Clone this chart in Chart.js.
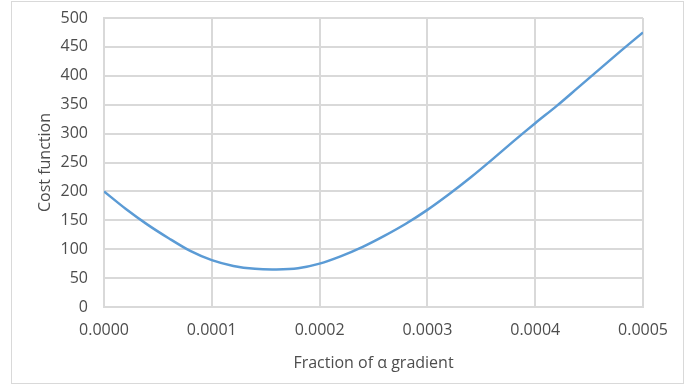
<!DOCTYPE html>
<html>
<head>
<meta charset="utf-8">
<script src="https://cdn.jsdelivr.net/npm/chart.js@4/dist/chart.umd.min.js"></script>
<style>
  html, body { margin: 0; padding: 0; background: #fff; }
  #wrap { position: relative; width: 688px; height: 385px; }
  #frame { position: absolute; left: 11px; top: 1px; width: 671px; height: 381px; border: 1px solid #d9d9d9; }
  canvas { position: absolute; left: 0; top: 0; }
</style>
</head>
<body>
<div id="wrap">
  <div id="frame"></div>
  <canvas id="chart" width="688" height="385"></canvas>
</div>
<script>
// fraction of alpha gradient
const fractions = [0, 0.00002, 0.00004, 0.00006, 0.00008, 0.0001, 0.00012, 0.00014, 0.00016, 0.00018,
    0.0002, 0.00022, 0.00024, 0.00026, 0.00028, 0.0003, 0.00032, 0.00034, 0.00036, 0.00038,
    0.0004, 0.00042, 0.00044, 0.00046, 0.00048, 0.0005];
const costValues = [200, 170, 143, 119, 97, 81, 71, 66, 65, 67,
    75, 88, 104, 123, 144, 168, 195, 224, 255, 287,
    318, 348, 380, 412, 444, 475];

const xTicks = [0, 0.0001, 0.0002, 0.0003, 0.0004, 0.0005];
const yTicks = [0, 50, 100, 150, 200, 250, 300, 350, 400, 450, 500];

const gridColor = '#d9d9d9';
const textColor = '#4d4d4d';
const fontFamily = "'Open Sans', 'Noto Sans', sans-serif";

const points = fractions.map((f, i) => ({ x: f, y: costValues[i] }));

const ctx = document.getElementById('chart').getContext('2d');
new Chart(ctx, {
    type: 'line',
    data: {
        datasets: [{
            data: points,
            borderColor: '#5b9bd5',
            borderWidth: 2.5,
            pointRadius: 0,
            tension: 0.3,
            fill: false
        }]
    },
    options: {
        responsive: false,
        animation: false,
        devicePixelRatio: 1,
        layout: { padding: { left: 12, right: 45, top: 18, bottom: 0 } },
        plugins: { legend: { display: false }, tooltip: { enabled: false } },
        scales: {
            x: {
                type: 'linear',
                min: 0,
                max: 0.0005,
                afterBuildTicks: (scale) => { scale.ticks = xTicks.map(v => ({ value: v })); },
                afterFit: (scale) => { scale.height = 78; },
                grid: { color: gridColor, lineWidth: 2, drawTicks: false },
                border: { color: gridColor, width: 2 },
                ticks: {
                    color: textColor,
                    padding: 14,
                    font: { family: fontFamily, size: 16 },
                    callback: (v) => Number(v).toFixed(4)
                },
                title: {
                    display: true,
                    text: 'Fraction of α gradient',
                    color: textColor,
                    font: { family: fontFamily, size: 16 },
                    padding: { top: 4, bottom: 12 }
                }
            },
            y: {
                min: 0,
                max: 500,
                afterBuildTicks: (scale) => { scale.ticks = yTicks.map(v => ({ value: v })); },
                afterFit: (scale) => {
                    scale.width = 92;
                    scale.paddingTop = 0;
                    scale.paddingBottom = 0;
                },
                grid: { color: gridColor, lineWidth: 2, drawTicks: false },
                border: { color: gridColor, width: 2 },
                ticks: {
                    color: textColor,
                    padding: 16,
                    font: { family: fontFamily, size: 16 }
                },
                title: {
                    display: true,
                    text: 'Cost function',
                    color: textColor,
                    font: { family: fontFamily, size: 16 },
                    padding: { top: 24, bottom: 4 }
                }
            }
        }
    }
});
</script>
</body>
</html>
